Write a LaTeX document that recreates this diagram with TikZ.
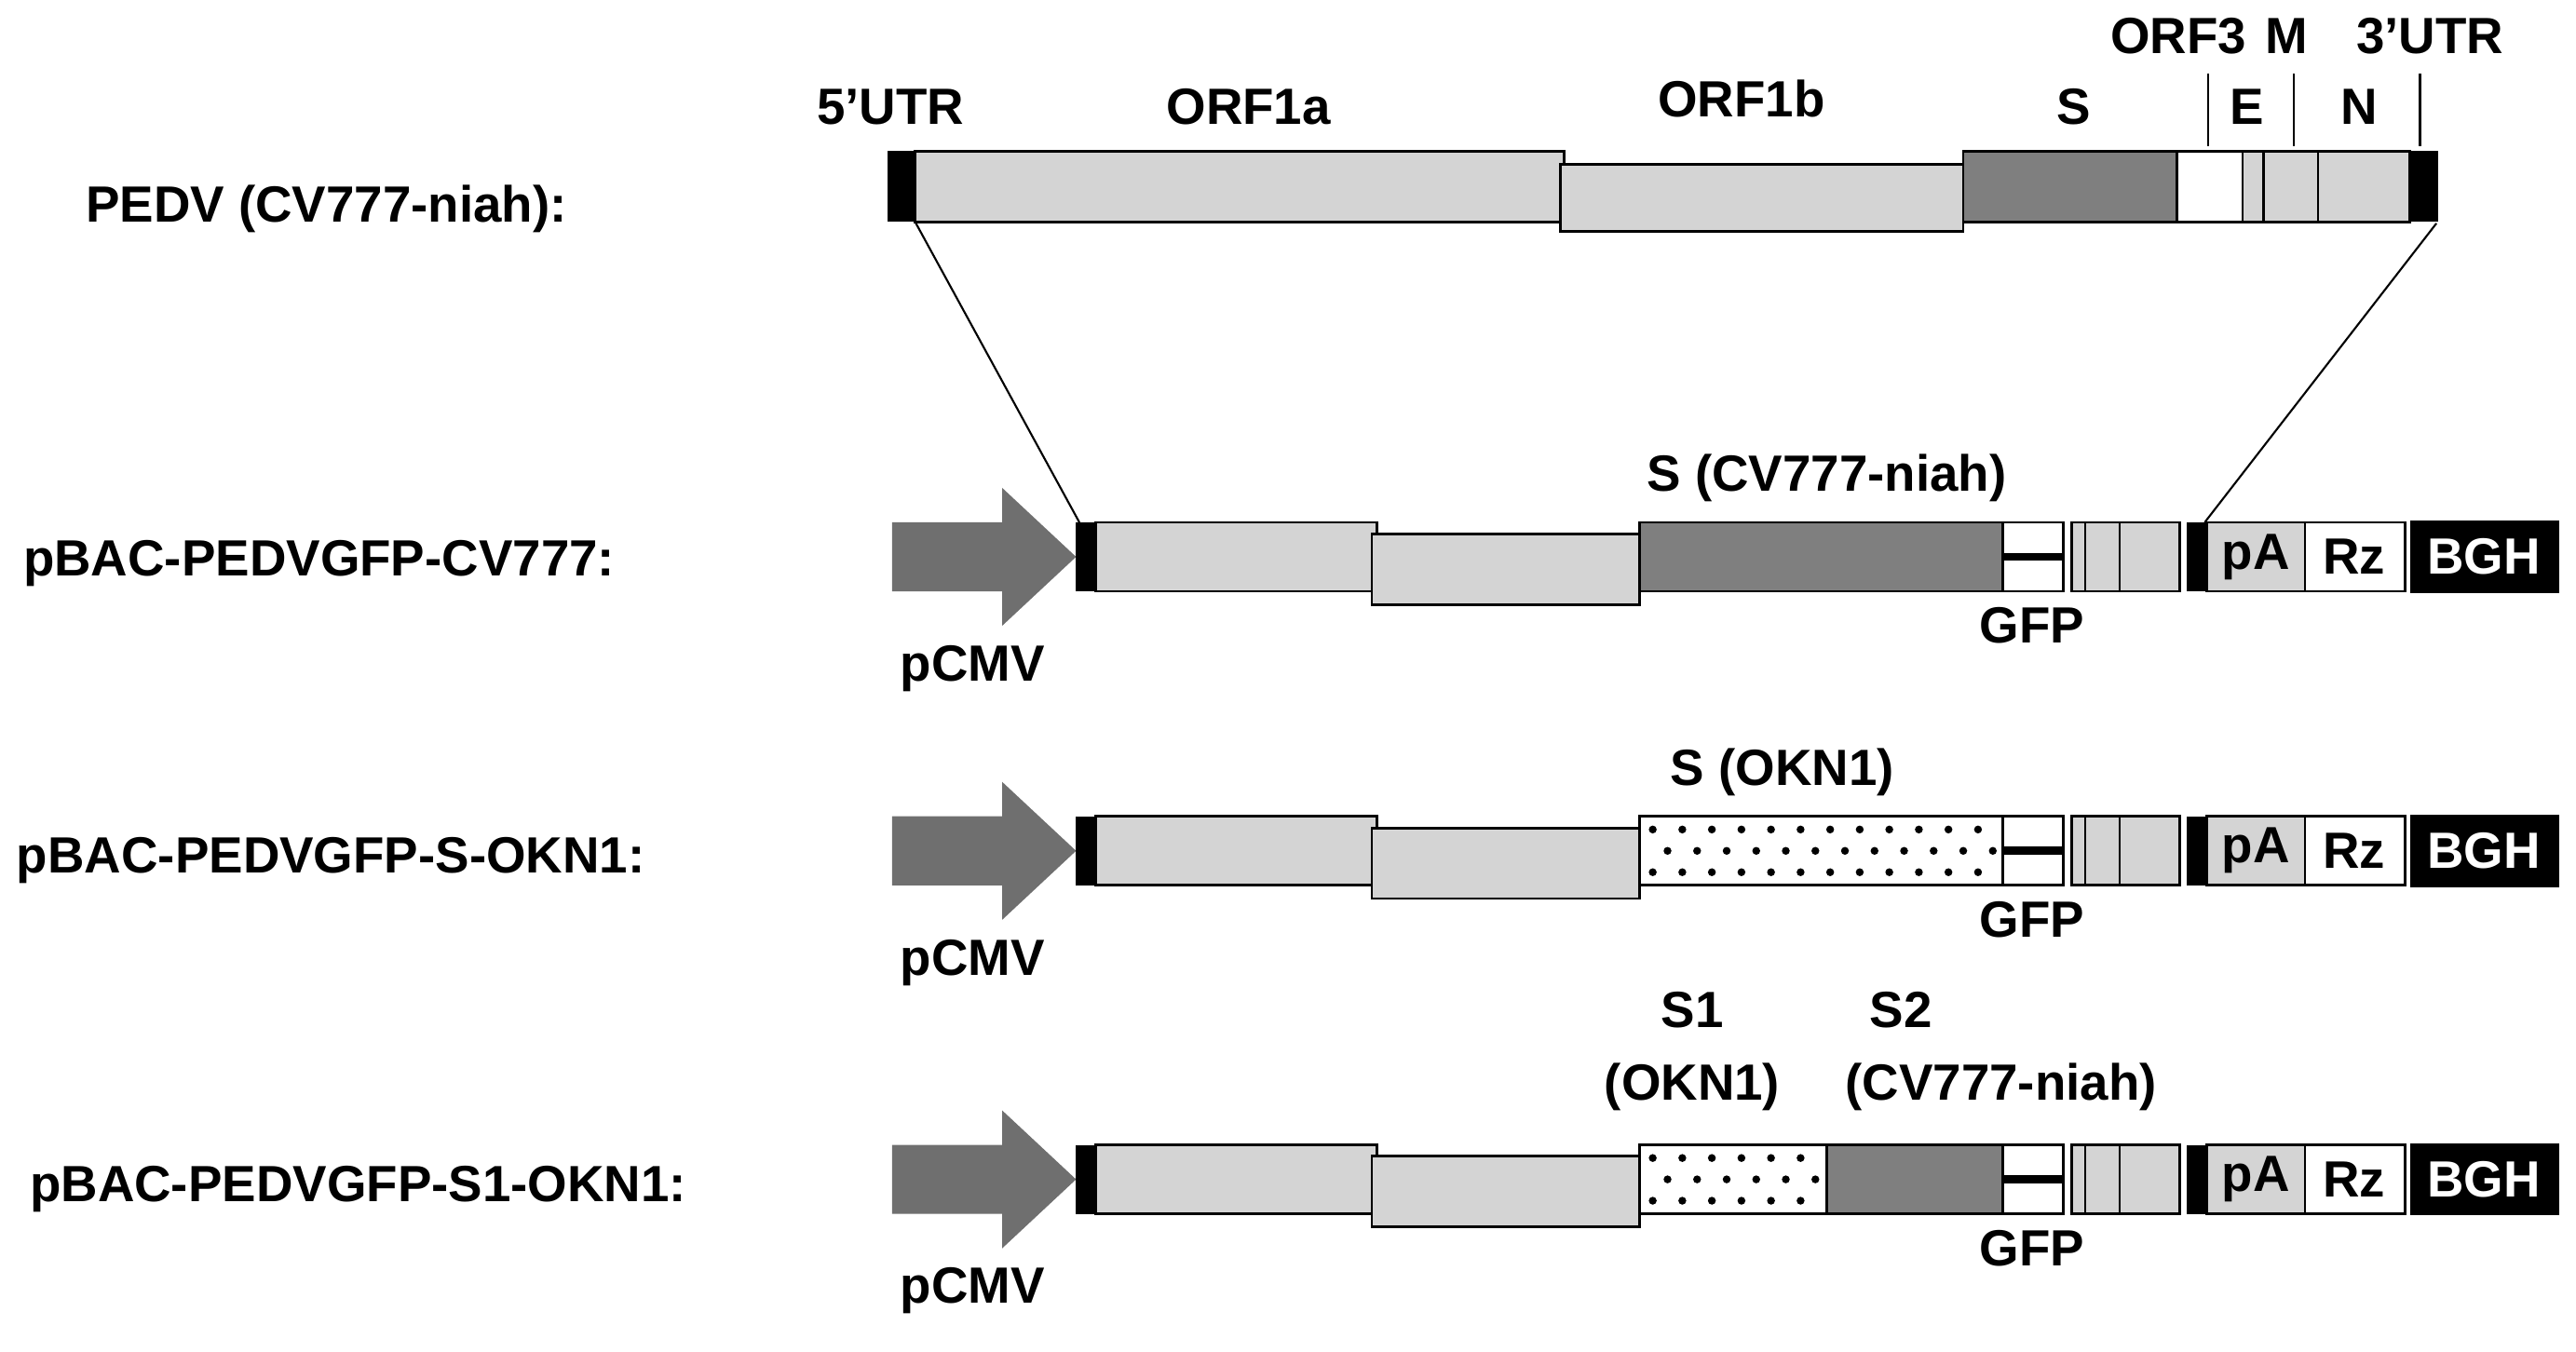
\documentclass[tikz,border=0pt]{standalone}
\usepackage{fontspec}
\setmainfont{Liberation Sans}
\begin{document}
\begin{tikzpicture}[x=1pt,y=-1pt,
  lbl/.style={font=\fontsize{31}{33}\selectfont\bfseries,inner sep=0pt},
  bx/.style={draw=black,line width=1.6pt},
  lg/.style={bx,fill=lightg},
  dg/.style={bx,fill=darkg}]
\definecolor{lightg}{HTML}{D4D4D4}
\definecolor{darkg}{HTML}{7F7F7F}
\definecolor{arrowg}{HTML}{6F6F6F}
\useasboundingbox (0,0) rectangle (1568,823);
% ---------- Row 1 ----------
\node[lbl,anchor=west] (r1) at (52,127) {PEDV (CV777-niah):};
\fill (540,92) rectangle (557,135);
\draw[lg] (557,92) rectangle (952,135);
\draw[lg] (950,100) rectangle (1195,141);
\draw[dg] (1195,92) rectangle (1325,135);
\draw[bx,fill=white] (1325,92) rectangle (1365,135);
\draw[lg] (1365,92) rectangle (1378,135);
\draw[lg] (1378,92) rectangle (1411,135);
\draw[lg] (1411,92) rectangle (1467,135);
\fill (1467,92) rectangle (1484,135);
\draw[line width=1.2pt] (1344,45) -- (1344,89);
\draw[line width=1.2pt] (1396,45) -- (1396,89);
\draw[line width=1.2pt] (1473,45) -- (1473,89);
\node[lbl] (utr5) at (542,65) {5’UTR};
\node[lbl] (o1a) at (760,65) {ORF1a};
\node[lbl] (o1b) at (1060,60) {ORF1b};
\node[lbl] (s) at (1262,65) {S};
\node[lbl] (o3) at (1326,22) {ORF3};
\node[lbl] (m) at (1392,22) {M};
\node[lbl] (utr3) at (1479,22) {3’UTR};
\node[lbl] (e) at (1368,65) {E};
\node[lbl] (n) at (1436,65) {N};
\coordinate (a1) at (557,135);
\coordinate (b1) at (1483,136);
\coordinate (a2) at (657,318);
\coordinate (b2) at (1342,318);
\draw[line width=1.2pt] (a1) -- (a2);
\draw[line width=1.2pt] (b1) -- (b2);
% ---------- common rows ----------
\foreach \yc in {339,518,718}{
  \fill[arrowg] (543,\yc-21) -- (610,\yc-21) -- (610,\yc-42) -- (655,\yc) -- (610,\yc+42) -- (610,\yc+21) -- (543,\yc+21) -- cycle;
  \fill (655,\yc-21) rectangle (667,\yc+21);
  \draw[lg] (667,\yc-21) rectangle (838,\yc+21);
  \draw[lg] (835,\yc-14) rectangle (998,\yc+29);
  \draw[bx,fill=white] (1219,\yc-21) rectangle (1256,\yc+21);
  \draw[line width=5pt] (1219,\yc) -- (1256,\yc);
  \draw[lg] (1261,\yc-21) rectangle (1327,\yc+21);
  \draw[line width=1.2pt] (1269,\yc-21) -- (1269,\yc+21);
  \draw[line width=1.2pt] (1290,\yc-21) -- (1290,\yc+21);
  \fill (1331,\yc-21) rectangle (1343,\yc+21);
  \draw[lg] (1343,\yc-21) rectangle (1403,\yc+21);
  \draw[bx,fill=white] (1403,\yc-21) rectangle (1464,\yc+21);
  \fill (1467,\yc-22) rectangle (1558,\yc+22);
  \node[lbl] at (1373,\yc) {pA};
  \node[lbl] at (1433,\yc) {Rz};
  \node[lbl,text=white] at (1512,\yc) {BGH};
  \node[lbl] at (1237,\yc+42) {GFP};
  \node[lbl] at (592,\yc+68) {pCMV};
}
% ---------- Row 2 ----------
\node[lbl,anchor=west] (r2) at (14,343) {pBAC-PEDVGFP-CV777:};
\draw[dg] (998,318) rectangle (1219,360);
\node[lbl] (s2lab) at (1112,291) {S (CV777-niah)};
% ---------- Row 3 ----------
\node[lbl,anchor=west] (r3) at (10,524) {pBAC-PEDVGFP-S-OKN1:};
\draw[bx,fill=white] (998,497) rectangle (1219,539);
\foreach \i in {0,...,11}{\foreach \j in {0,1,2}{
  \pgfmathsetmacro{\dx}{1006+\i*18+mod(\j,2)*9}
  \pgfmathsetmacro{\dy}{505+\j*13}
  \fill (\dx,\dy) circle (2.4);}}
\node[lbl] (s3lab) at (1085,470) {S (OKN1)};
% ---------- Row 4 ----------
\node[lbl,anchor=west] (r4) at (18,724) {pBAC-PEDVGFP-S1-OKN1:};
\draw[bx,fill=white] (998,697) rectangle (1112,739);
\foreach \i in {0,...,5}{\foreach \j in {0,1,2}{
  \pgfmathsetmacro{\dx}{1006+\i*18+mod(\j,2)*9}
  \pgfmathsetmacro{\dy}{705+\j*13}
  \fill (\dx,\dy) circle (2.4);}}
\draw[dg] (1112,697) rectangle (1219,739);
\node[lbl] (s1a) at (1030,615) {S1};
\node[lbl] (s1b) at (1030,662) {(OKN1)};
\node[lbl] (s2a) at (1157,615) {S2};
\node[lbl] (s2b) at (1218,662) {(CV777-niah)};
\end{tikzpicture}
\end{document}
